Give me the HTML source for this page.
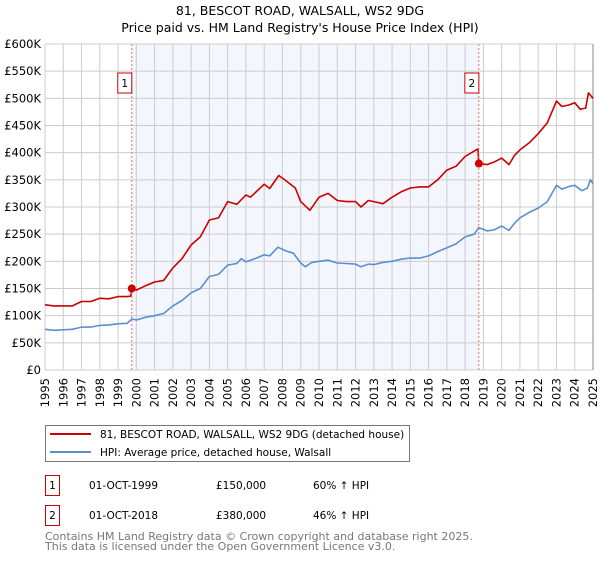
<!DOCTYPE html>
<html><head><meta charset="utf-8"><style>
body{margin:0;background:#fff;font-family:"Liberation Sans","DejaVu Sans",sans-serif;}
svg text{font-family:"DejaVu Sans","Liberation Sans",sans-serif;}
</style></head><body>
<svg id="chart" width="600" height="560" viewBox="0 0 600 560" xmlns="http://www.w3.org/2000/svg">
<text x="300" y="15" text-anchor="middle" font-size="12.5">81, BESCOT ROAD, WALSALL, WS2 9DG</text>
<text x="300" y="32" text-anchor="middle" font-size="12.5">Price paid vs. HM Land Registry's House Price Index (HPI)</text>
<g id="plot"></g>
<g>
<rect x="45.5" y="425.5" width="364" height="36" fill="#fff" stroke="#777"/>
<line x1="50" y1="434" x2="91" y2="434" stroke="#cc0000" stroke-width="2"/>
<text x="100" y="438" font-size="10.5">81, BESCOT ROAD, WALSALL, WS2 9DG (detached house)</text>
<line x1="50" y1="452" x2="91" y2="452" stroke="#5b8fd0" stroke-width="2"/>
<text x="100" y="456" font-size="10.5">HPI: Average price, detached house, Walsall</text>
</g>
<g font-size="10.5">
<rect x="45.5" y="475.5" width="14" height="20" fill="none" stroke="#cc0000"/>
<text x="52.5" y="489" text-anchor="middle">1</text>
<text x="89" y="489">01-OCT-1999</text><text x="216" y="489">£150,000</text><text x="313" y="489">60% ↑ HPI</text>
<rect x="45.5" y="505.5" width="14" height="20" fill="none" stroke="#cc0000"/>
<text x="52.5" y="519" text-anchor="middle">2</text>
<text x="89" y="519">01-OCT-2018</text><text x="216" y="519">£380,000</text><text x="313" y="519">46% ↑ HPI</text>
</g>
<text x="45" y="540" font-size="11" fill="#777">Contains HM Land Registry data © Crown copyright and database right 2025.</text>
<text x="45" y="550" font-size="11" fill="#777">This data is licensed under the Open Government Licence v3.0.</text>
</svg>
<script>
const hpiYears=[1995,1995.5,1996,1996.5,1997,1997.5,1998,1998.5,1999,1999.5,1999.75,2000,2000.5,2001,2001.5,2002,2002.5,2003,2003.5,2004,2004.5,2005,2005.5,2005.75,2006,2006.5,2007,2007.3,2007.75,2008.2,2008.6,2009,2009.25,2009.6,2010,2010.5,2011,2011.5,2012,2012.3,2012.7,2013,2013.5,2014,2014.5,2015,2015.5,2016,2016.5,2017,2017.5,2018,2018.5,2018.75,2019.2,2019.6,2020,2020.4,2020.7,2021,2021.5,2022,2022.5,2023,2023.3,2023.7,2024,2024.4,2024.7,2024.85,2025];
const hpiValues=[75,73,74,75,79,79,82,83,85,86,94,92,97,100,104,118,128,142,150,172,176,193,196,205,199,205,212,210,226,219,215,197,190,198,200,202,197,196,195,190,195,194,198,200,204,206,206,210,218,225,232,245,250,262,256,258,265,257,270,280,290,298,310,340,333,338,340,330,335,350,343];
const priceYears=[1995,1995.5,1996,1996.5,1997,1997.5,1998,1998.5,1999,1999.5,1999.7,1999.75,2000,2000.5,2001,2001.5,2002,2002.5,2003,2003.5,2004,2004.5,2005,2005.5,2006,2006.25,2007,2007.3,2007.8,2008.2,2008.7,2009,2009.5,2010,2010.5,2011,2011.5,2012,2012.3,2012.7,2013,2013.5,2014,2014.5,2015,2015.5,2016,2016.5,2017,2017.5,2018,2018.6,2018.7,2018.75,2019.2,2019.6,2020,2020.4,2020.7,2021,2021.5,2022,2022.5,2023,2023.3,2023.7,2024,2024.3,2024.6,2024.75,2025];
const priceValues=[120,118,118,118,126,126,132,131,135,135,136,150,147,155,162,165,188,205,230,245,276,280,310,305,322,318,342,334,358,348,335,310,294,318,325,312,310,310,300,312,310,306,318,328,335,337,337,350,368,375,393,405,407,380,378,383,390,378,395,405,418,435,455,495,485,488,492,480,482,510,500];
const saleYears=[1999.75,2018.75];
const saleValues=[150,380];
const yTicks=[0,50,100,150,200,250,300,350,400,450,500,550,600];
const xTicks=[1995,1996,1997,1998,1999,2000,2001,2002,2003,2004,2005,2006,2007,2008,2009,2010,2011,2012,2013,2014,2015,2016,2017,2018,2019,2020,2021,2022,2023,2024,2025];
const L=45,R=593,T=44,B=370,x0=1995,x1=2025,ymax=600;
const X=v=>L+(v-x0)/(x1-x0)*(R-L);
const Y=v=>B-v/ymax*(B-T);
const NS='http://www.w3.org/2000/svg';
const g=document.getElementById('plot');
function mk(t,a,p){const e=document.createElementNS(NS,t);for(const k in a)e.setAttribute(k,a[k]);(p||g).appendChild(e);return e;}
mk('rect',{x:X(saleYears[0]),y:T,width:X(saleYears[1])-X(saleYears[0]),height:B-T,fill:'#f3f6fd'});
yTicks.forEach(v=>{const l=mk('line',{x1:L,x2:R,y1:Y(v),y2:Y(v),stroke:'#ccc','stroke-width':1});


const t=mk('text',{x:L-4,y:Y(v)+4,'text-anchor':'end','font-size':'11.5'});t.textContent=v===0?'£0':'£'+v+'K';

});
xTicks.forEach(v=>{const l=mk('line',{x1:X(v),x2:X(v),y1:T,y2:B,stroke:'#ccc','stroke-width':1});


const t=mk('text',{x:0,y:0,'text-anchor':'end','font-size':'11.5',transform:`translate(${X(v)+4},${B+8}) rotate(-90)`});t.textContent=v;

});
mk('line',{x1:R,x2:R,y1:T,y2:B,stroke:'#888'});
function path(xs,ys,c,name){const d=xs.map((v,i)=>(i?'L':'M')+X(v).toFixed(1)+','+Y(ys[i]).toFixed(1)).join('');
const p=mk('path',{d:d,fill:'none',stroke:c,'stroke-width':1.6,'stroke-linejoin':'round'});

}
path(hpiYears,hpiValues,'#5b8fd0','hpi-line');
path(priceYears,priceValues,'#cc0000','price-line');
saleYears.forEach((s,i)=>{
const l=mk('line',{x1:X(s),x2:X(s),y1:T,y2:B,stroke:'#ff6666','stroke-dasharray':'2,2'});


const c=mk('circle',{cx:X(s),cy:Y(saleValues[i]),r:4,fill:'#cc0000'});


const bx=X(s)-7;
const r=mk('rect',{x:bx-7,y:73,width:14,height:20,fill:'#fff',stroke:'#cc0000'});


const t=mk('text',{x:bx,y:87,'text-anchor':'middle','font-size':'10.5'});t.textContent=String(i+1);

});
</script>
</body></html>
